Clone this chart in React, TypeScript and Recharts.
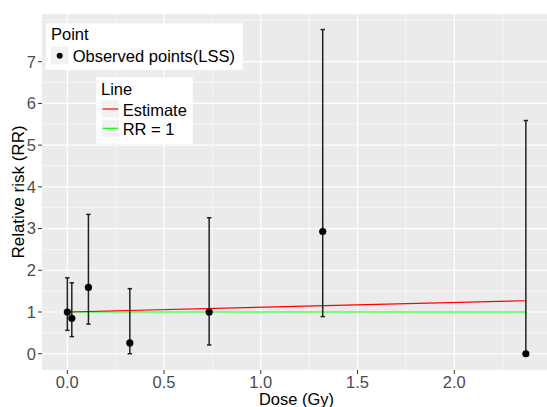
import React from 'react';
import { ComposedChart, Scatter, Line, XAxis, YAxis, CartesianGrid, ErrorBar } from 'recharts';

const doses = [0, 0.023, 0.109, 0.323, 0.733, 1.32, 2.37];
const rr = [1.0, 0.85, 1.59, 0.26, 1.0, 2.93, 0.0];
const lower = [0.56, 0.41, 0.71, 0.0, 0.21, 0.89, 0.0];
const upper = [1.82, 1.70, 3.34, 1.56, 3.26, 7.77, 5.59];

const estimateX = [0, 2.37];
const estimateY = [1.0, 1.27];
const refX = [0, 2.37];
const refY = [1.0, 1.0];

const xTicks = [0, 0.5, 1, 1.5, 2];
const xMinor = [0.25, 0.75, 1.25, 1.75, 2.25, 2.5];
const yTicks = [0, 1, 2, 3, 4, 5, 6, 7];
const yMinor = [0.5, 1.5, 2.5, 3.5, 4.5, 5.5, 6.5, 7.5, 8];

const pointData = doses.map((d, i) => ({ x: d, y: rr[i], err: [rr[i] - lower[i], upper[i] - rr[i]] }));
const estData = estimateX.map((x, i) => ({ x, y: estimateY[i] }));
const refData = refX.map((x, i) => ({ x, y: refY[i] }));

const FONT = '"Liberation Sans", Arial, Helvetica, sans-serif';
const FS = 16.5;

const Dot = (props: any) => <circle cx={props.cx} cy={props.cy} r={3.6} fill="#000" />;

export default function App() {
  return (
    <div style={{ position: 'absolute', left: 0, top: 0, width: 547, height: 407, overflow: 'hidden', background: '#fff', fontFamily: FONT }}>
      <ComposedChart width={551} height={407} margin={{ top: 14, right: 0, bottom: 0, left: 0 }}>
        <CartesianGrid fill="#EBEBEB" stroke="#FFFFFF" strokeWidth={0.6}
          horizontalValues={yMinor} verticalValues={xMinor} />
        <CartesianGrid stroke="#FFFFFF" strokeWidth={1.2}
          horizontalValues={yTicks} verticalValues={xTicks} />
        <XAxis dataKey="x" type="number" domain={[-0.131, 2.5]} allowDataOverflow ticks={xTicks}
          tickFormatter={(v: number) => v.toFixed(1)} axisLine={false}
          tickLine={{ stroke: '#333333', strokeWidth: 1 }} tickSize={4} tickMargin={2} height={37}
          tick={{ fill: '#4D4D4D', fontSize: FS, fontFamily: FONT }}
          label={{ value: 'Dose (Gy)', position: 'insideBottom', offset: 2.5, fill: '#000', fontSize: 16.5, fontFamily: FONT }} />
        <YAxis type="number" domain={[-0.39, 8.144]} allowDataOverflow ticks={yTicks} axisLine={false}
          tickLine={{ stroke: '#333333', strokeWidth: 1 }} tickSize={4} tickMargin={2} width={42}
          tick={{ fill: '#4D4D4D', fontSize: FS, fontFamily: FONT }}
          label={{ value: 'Relative risk (RR)', angle: -90, position: 'insideLeft', offset: 17.5, fill: '#000', fontSize: 17, fontFamily: FONT, style: { textAnchor: 'middle' } }} />
        <Line data={refData} dataKey="y" type="linear" stroke="#00FF00" strokeWidth={1.2} dot={false} isAnimationActive={false} />
        <Line data={estData} dataKey="y" type="linear" stroke="#FF0000" strokeWidth={1.2} dot={false} isAnimationActive={false} />
        <Scatter data={pointData} dataKey="y" shape={Dot} isAnimationActive={false}>
          <ErrorBar dataKey="err" direction="y" width={2.2} stroke="#222222" strokeWidth={1.5} />
        </Scatter>
      </ComposedChart>
      <svg width={547} height={407} style={{ position: 'absolute', left: 0, top: 0, pointerEvents: 'none' }}>
        <g fontFamily={FONT} fontSize={FS} fill="#000">
          <rect x={45.7} y={23.3} width={197} height={46.7} fill="#fff" />
          <text x={51} y={40}>Point</text>
          <rect x={51} y={47} width={17.3} height={17.3} fill="#F2F2F2" />
          <circle cx={59.7} cy={55.7} r={3} fill="#000" />
          <text x={72.7} y={62.3}>Observed points(LSS)</text>

          <rect x={96} y={77.3} width={96.7} height={66.7} fill="#fff" />
          <text x={101} y={95}>Line</text>
          <rect x={101.7} y={100.3} width={17.3} height={17.3} fill="#F2F2F2" />
          <line x1={102.5} x2={118.2} y1={109} y2={109} stroke="#FF0000" strokeWidth={1.2} />
          <text x={122.7} y={115.7}>Estimate</text>
          <rect x={101.7} y={119.6} width={17.3} height={17.3} fill="#F2F2F2" />
          <line x1={102.5} x2={118.2} y1={128.3} y2={128.3} stroke="#00FF00" strokeWidth={1.2} />
          <text x={122.7} y={135}>RR = 1</text>
        </g>
      </svg>
    </div>
  );
}
